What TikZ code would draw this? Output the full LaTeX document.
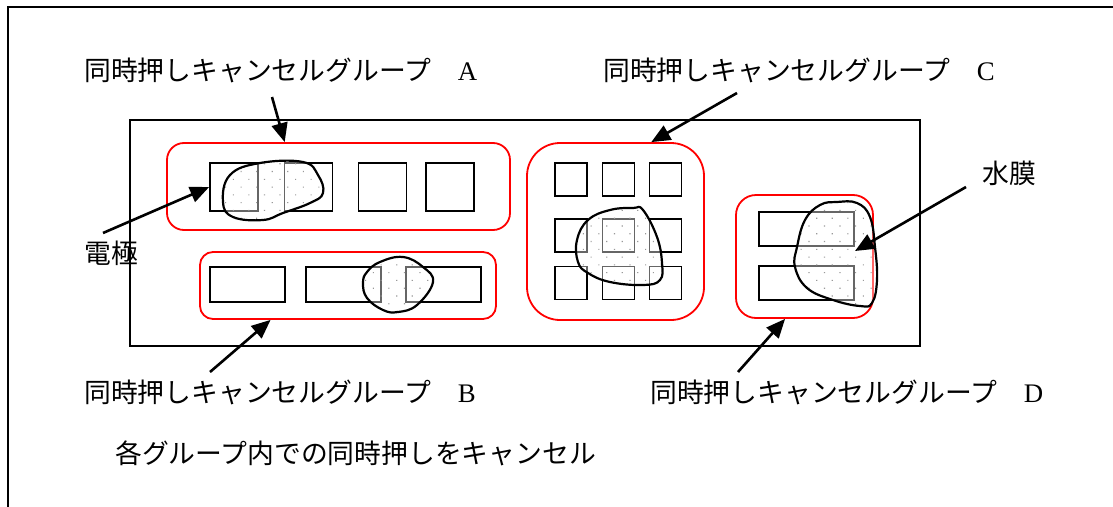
\documentclass[tikz,border=0pt]{standalone}
\usepackage{fontspec}
\setmainfont{Liberation Serif}
\newfontfamily\cjk{Noto Sans CJK JP}
\usetikzlibrary{arrows.meta,patterns.meta,calc}

\begin{document}
\begin{tikzpicture}[x=1pt,y=-1pt,
    key/.style={draw,line width=1.7pt,inner sep=0pt},
    grp/.style={draw=red,line width=1.8pt,inner sep=0pt},
    lbl/.style={anchor=west,inner sep=0pt,font=\cjk\fontsize{26.8}{30}\selectfont},
    arr/.style={line width=2.6pt,-{Triangle[length=19pt,width=16pt]}},
    film/.style={draw,line width=2.2pt,preaction={fill=white,fill opacity=0.4},
        pattern={Dots[distance=11pt,angle=45,radius=0.8pt]},pattern color=gray!80}]
        \useasboundingbox (0,0) rectangle (1113,506);
        \draw[line width=1.6pt] (8,512) -- (8,7) -- (1120,7);
        \draw[line width=1.6pt] (130,120) rectangle (920,346);

        \node[grp,rounded corners=17pt,minimum width=343pt,minimum height=87pt] (ga) at (338.5,186.5) {};
        \node[grp,rounded corners=13pt,minimum width=296pt,minimum height=67pt] (gb) at (348,285.5) {};
        \node[grp,rounded corners=33pt,minimum width=177pt,minimum height=177pt] (gc) at (615.5,231.5) {};
        \node[grp,rounded corners=20pt,minimum width=137pt,minimum height=123pt] (gd) at (804.5,256.5) {};

        \foreach \x/\i in {234/1,308.5/2,382.5/3,450/4}
            \node[key,minimum width=48pt,minimum height=48pt] (a\i) at (\x,187) {};
        \foreach \x/\i in {247.5/1,343.5/2,443.5/3}
            \node[key,minimum width=75pt,minimum height=35pt] (b\i) at (\x,284.5) {};
        \foreach \x/\i in {571/1,618.5/2,665.5/3}
            \foreach \y/\j in {179.5/1,235.5/2,283/3}
                \node[key,minimum width=32pt,minimum height=33pt] (c\j\i) at (\x,\y) {};
        \node[key,minimum width=95pt,minimum height=34pt] (d1) at (806.5,229) {};
        \node[key,minimum width=95pt,minimum height=34pt] (d2) at (806.5,283) {};

        \path[film] plot[smooth cycle,tension=0.7] coordinates {(223,202) (230,175) (260,163) (303,162) (318,175) (323,193) (310,203) (283,213) (263,220) (233,217)};
        \path[film] plot[smooth cycle,tension=0.7] coordinates {(363,283) (367,298) (383,310) (398,312) (417,305) (433,282) (423,267) (403,257) (380,262) (367,272)};
        \path[film] plot[smooth cycle,tension=0.7] coordinates {(577,240) (578,262) (588,273) (610,282) (643,285) (660,280) (662,263) (657,237) (643,210) (633,208) (610,210) (588,220)};
        \path[film] plot[smooth cycle,tension=0.7] coordinates {(837,202) (857,203) (870,217) (875,247) (877,280) (872,303) (860,306) (833,300) (807,288) (795,267) (797,247) (805,220) (820,205)};

        \node[lbl] (la) at (84,70) {同時押しキャンセルグループ　{\rmfamily A}};
        \node[lbl] (lc) at (603,70) {同時押しキャンセルグループ　{\rmfamily C}};
        \node[lbl] (lb) at (84,392) {同時押しキャンセルグループ　{\rmfamily B}};
        \node[lbl] (ld) at (650,392) {同時押しキャンセルグループ　{\rmfamily D}};
        \node[lbl] (le) at (84,253) {電極};
        \node[lbl] (lw) at (982,173) {水膜};
        \node[lbl] (ln) at (115,453) {各グループ内での同時押しをキャンセル};

        \coordinate (sa) at (272,97);
        \coordinate (sb) at (210,372);
        \coordinate (sc) at (737,93);
        \coordinate (sd) at (738,372);
        \coordinate (se) at (103,233);
        \coordinate (sw) at (966,187);
        \coordinate (wet) at (855,251);
        \draw[arr] (sa) -- ($(ga.north west)!0.344!(ga.north east)$);
        \draw[arr] (sb) -- ($(gb.south west)!0.24!(gb.south east)$);
        \draw[arr] (sc) -- ($(gc.north west)!0.70!(gc.north east)$);
        \draw[arr] (sd) -- ($(gd.south west)!0.36!(gd.south east)$);
        \draw[arr] (se) -- (a1.west);
        \draw[arr] (sw) -- (wet);
    \end{tikzpicture}
\end{document}
